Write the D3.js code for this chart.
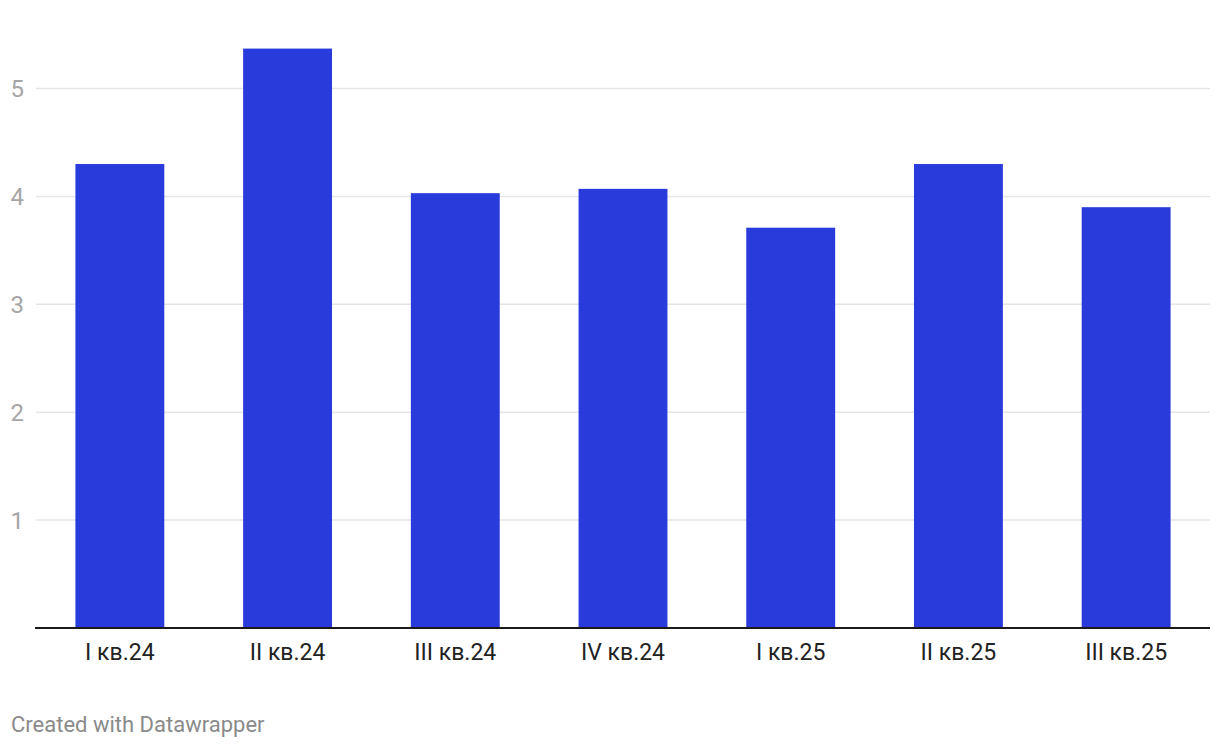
<!DOCTYPE html>
<html>
<head>
<meta charset="utf-8">
<script src="https://cdn.jsdelivr.net/npm/d3@7"></script>
<style>
  html, body { margin: 0; padding: 0; background: #fff; }
  svg { display: block; font-family: Roboto, "Noto Sans", sans-serif; }
</style>
</head>
<body>
<svg id="chart" width="1220" height="748"></svg>
<script>
const categories = ["I кв.24", "II кв.24", "III кв.24", "IV кв.24", "I кв.25", "II кв.25", "III кв.25"];
const values = [4.3, 5.37, 4.03, 4.07, 3.71, 4.3, 3.9];
const yTicks = [1, 2, 3, 4, 5];
const credit = "Created with Datawrapper";

(function () {
const svg = d3.select("#chart");
const mLeft = 36, mRight = 1210, mBottom = 628;

const x = d3.scaleBand().domain(categories).range([mLeft, mRight]).paddingInner(0.47).paddingOuter(0.235);
const y = d3.scaleLinear().domain([0, 5]).range([mBottom, mBottom - 5 * 107.9]);

// grid
svg.append("g").selectAll("line").data(yTicks).join("line")
  .attr("x1", mLeft).attr("x2", mRight)
  .attr("y1", d => y(d)).attr("y2", d => y(d))
  .attr("stroke", "#e5e5e5").attr("stroke-width", 1.5);

// y labels
svg.append("g").selectAll("text").data(yTicks).join("text")
  .attr("x", 24).attr("y", d => y(d)).attr("dy", "0.35em")
  .attr("text-anchor", "end")
  .attr("font-size", 24).attr("fill", "#a6a6a6")
  .text(d => d);

// bars
svg.append("g").selectAll("rect").data(values).join("rect")
  .attr("x", (d, i) => x(categories[i]))
  .attr("width", x.bandwidth())
  .attr("y", d => y(d))
  .attr("height", d => y(0) - y(d))
  .attr("fill", "#293bdb");

// baseline
svg.append("line").attr("x1", 35).attr("x2", mRight)
  .attr("y1", y(0)).attr("y2", y(0))
  .attr("stroke", "#1a1a1a").attr("stroke-width", 2);

// x labels
svg.append("g").selectAll("text").data(categories).join("text")
  .attr("x", d => x(d) + x.bandwidth() / 2)
  .attr("y", 660)
  .attr("text-anchor", "middle")
  .attr("font-size", 23).attr("fill", "#222")
  .text(d => d);

svg.append("text").attr("x", 11).attr("y", 732)
  .attr("font-size", 22).attr("fill", "#8a8a8a")
  .text(credit);
})();
</script>
</body>
</html>
